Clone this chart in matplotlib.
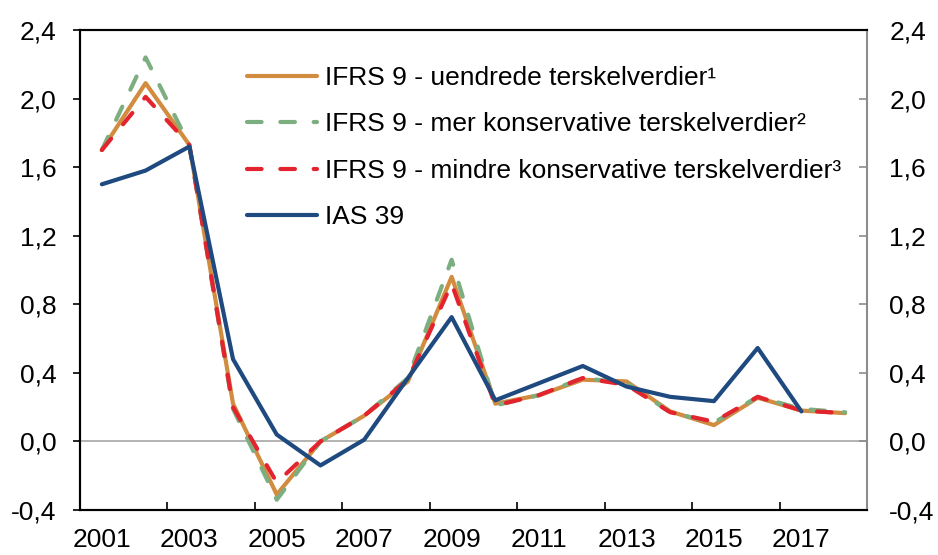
import matplotlib
matplotlib.use('Agg')
import matplotlib.pyplot as plt
from matplotlib.ticker import FixedLocator, FuncFormatter

plt.rcParams['font.family'] = ['Liberation Sans', 'DejaVu Sans']

years = list(range(2001, 2019))
uendrede = [1.70, 2.09, 1.73, 0.22, -0.31, 0.00, 0.15, 0.35, 0.96, 0.22, 0.27, 0.36, 0.35, 0.175, 0.095, 0.255, 0.18, 0.165]
mer_kons = [1.70, 2.24, 1.73, 0.19, -0.34, 0.00, 0.15, 0.37, 1.06, 0.21, 0.27, 0.37, 0.34, 0.17, 0.11, 0.26, 0.19, 0.17]
mindre_kons = [1.70, 2.01, 1.73, 0.20, -0.24, 0.00, 0.15, 0.36, 0.92, 0.21, 0.27, 0.37, 0.33, 0.17, 0.115, 0.26, 0.18, 0.165]
ias39 = [1.50, 1.58, 1.72, 0.48, 0.04, -0.14, 0.01, 0.37, 0.725, 0.24, 0.34, 0.44, 0.32, 0.26, 0.235, 0.545, 0.175]

labels = ['IFRS 9 - uendrede terskelverdier\u00b9',
          'IFRS 9 - mer konservative terskelverdier\u00b2',
          'IFRS 9 - mindre konservative terskelverdier\u00b3',
          'IAS 39']
yticks = [-0.4, 0.0, 0.4, 0.8, 1.2, 1.6, 2.0, 2.4]

font_size = 19
lw = 3

fig = plt.figure(figsize=(9.38, 5.55), dpi=100)
ax = fig.add_axes([80/938, 1-510/555, 787/938, 480/555])

ax.axhline(0, color='#a6a6a6', lw=1.2, zorder=1)

ax.plot(years, uendrede, color='#d18c40', lw=lw, solid_capstyle='round', label=labels[0], zorder=2)
ax.plot(years, mer_kons, color='#7dae80', lw=lw, dashes=(3.5, 4.5), dash_capstyle='round', label=labels[1], zorder=3)
ax.plot(years, mindre_kons, color='#e3232e', lw=lw, dashes=(3.5, 4.5), dash_capstyle='round', label=labels[2], zorder=4)
ax.plot(years[:len(ias39)], ias39, color='#1f4a80', lw=lw, solid_capstyle='round', label=labels[3], zorder=5)

ax.set_xlim(2000.5, 2018.5)
ax.set_ylim(-0.4, 2.4)

# x: tick marks between category pairs, labels on every other year
ax.xaxis.set_major_locator(FixedLocator([2000.5 + 2*k for k in range(10)]))
ax.xaxis.set_minor_locator(FixedLocator(years[::2]))
ax.xaxis.set_major_formatter(FuncFormatter(lambda v, p: ''))
ax.xaxis.set_minor_formatter(FuncFormatter(lambda v, p: '%d' % round(v)))
ax.tick_params(axis='x', which='major', direction='in', length=6, width=1.2, color='black')
ax.tick_params(axis='x', which='minor', length=0, pad=13, labelsize=font_size)

fmt = FuncFormatter(lambda v, p: ('%.1f' % v).replace('.', ','))
ax.set_yticks(yticks)
ax.yaxis.set_major_formatter(fmt)
ax.tick_params(axis='y', direction='out', length=5, width=1.2, pad=12, labelsize=font_size)

ax2 = ax.twinx()
ax2.set_ylim(-0.4, 2.4)
ax2.set_yticks(yticks)
ax2.yaxis.set_major_formatter(fmt)
ax2.tick_params(axis='y', direction='in', length=6, width=1.2, color='#8c8c8c', pad=16, labelsize=font_size)

for a in (ax, ax2):
    a.spines['left'].set_color('black')
    a.spines['bottom'].set_color('black')
    a.spines['top'].set_color('black')
    a.spines['right'].set_color('#8c8c8c')
    for s in a.spines.values():
        s.set_linewidth(1.5)
ax2.spines['right'].set_linewidth(1.2)

ax.legend(loc='upper left', bbox_to_anchor=(0.212, 0.925), frameon=False, fontsize=font_size,
          handlelength=2.65, handletextpad=0.3, labelspacing=0.85, borderpad=0, borderaxespad=0)

fig.savefig('out.png', dpi=100)
